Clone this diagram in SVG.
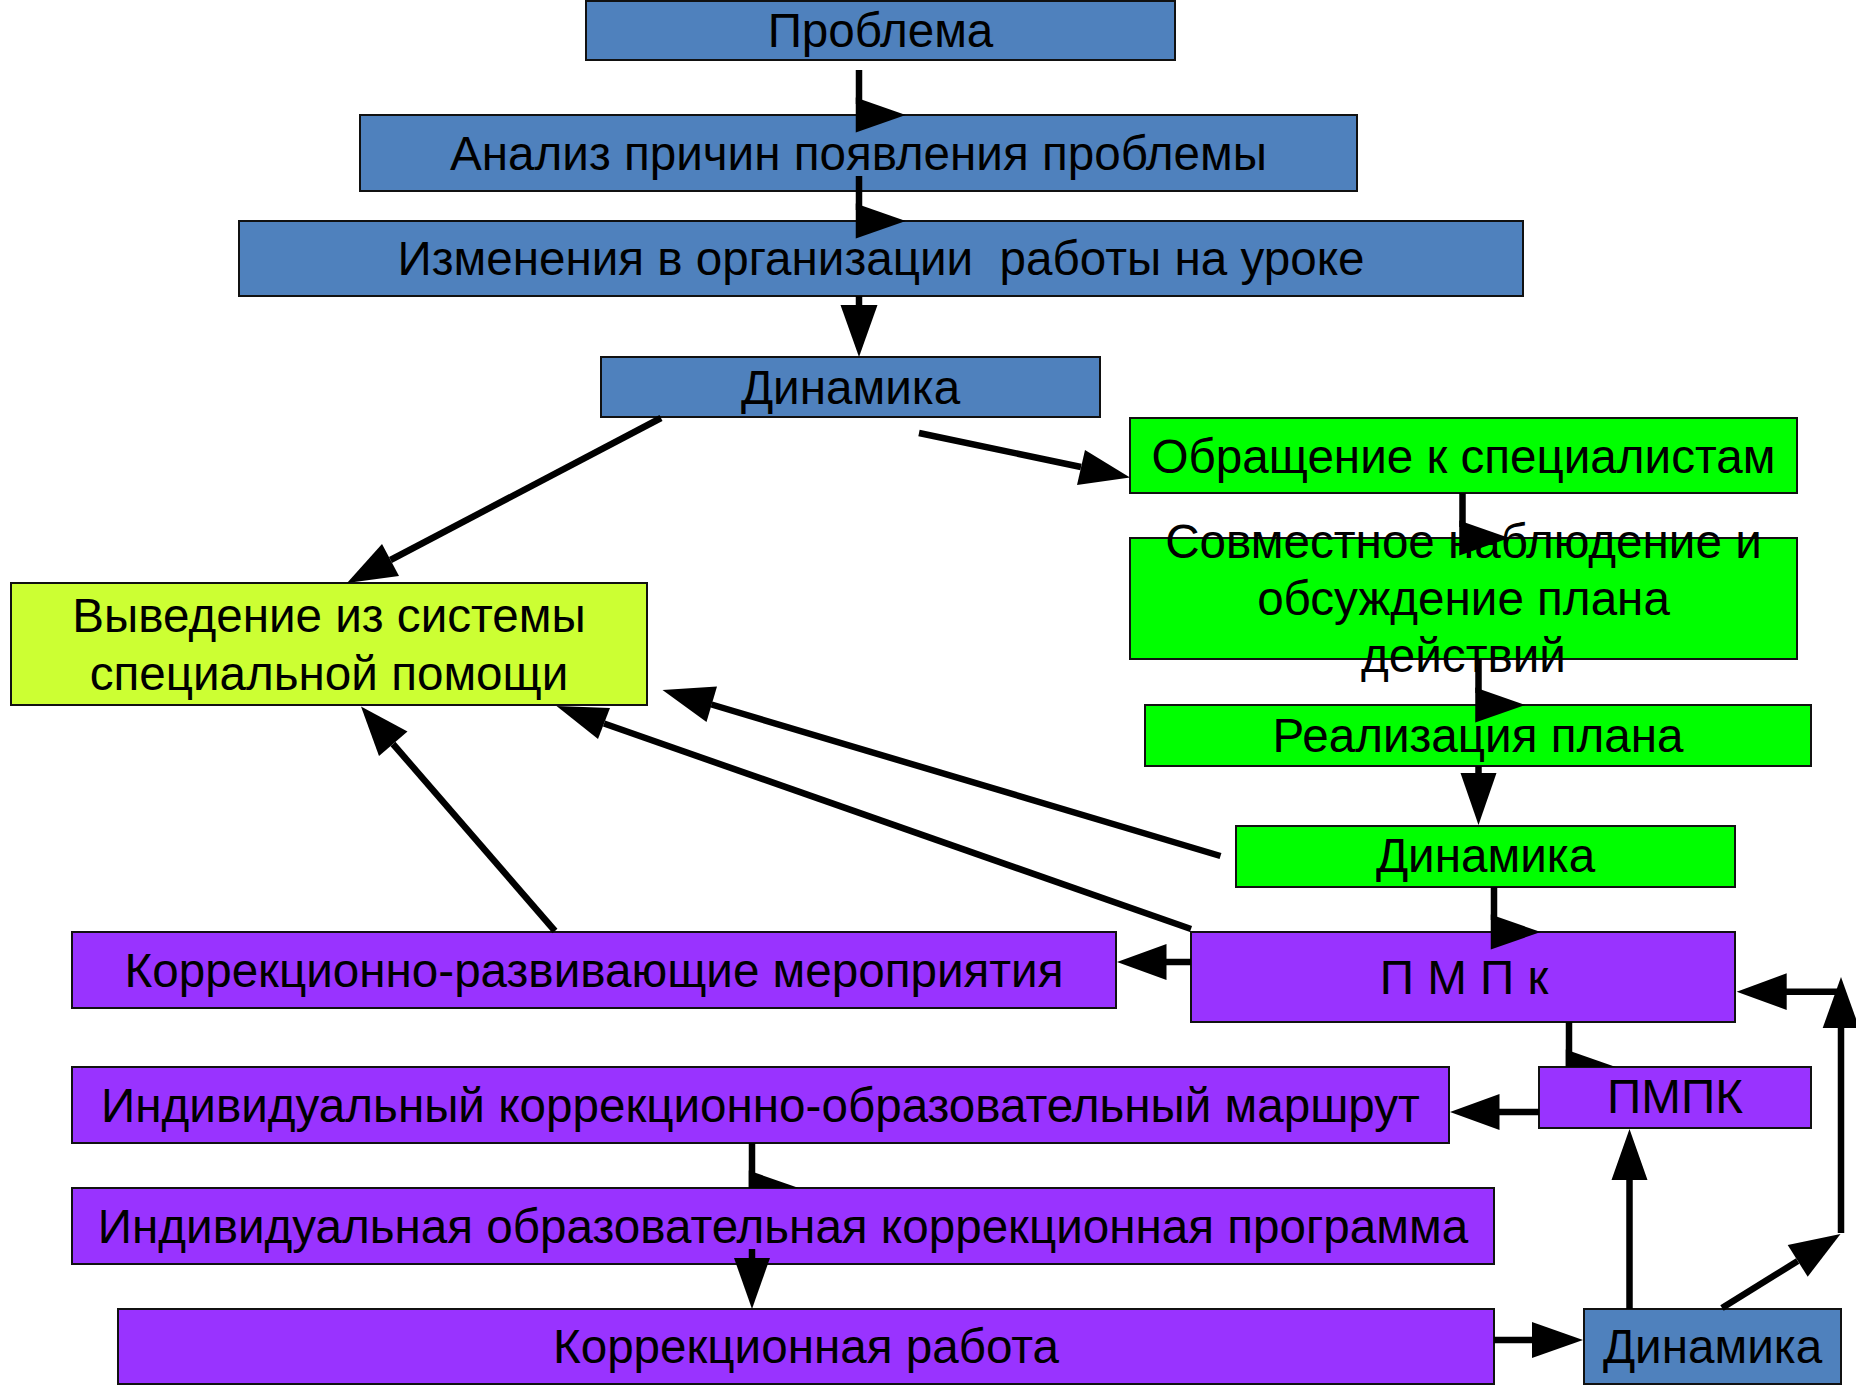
<svg xmlns="http://www.w3.org/2000/svg" width="1856" height="1385" viewBox="0 0 1856 1385">
<style>
.box{stroke:#111;stroke-width:2}
.blue{fill:#4f81bd}
.green{fill:#00ff00}
.lime{fill:#ccff33}
.purple{fill:#9933ff}
text{font-family:"Liberation Sans",Arial,sans-serif;font-size:47.6px;fill:#000;text-anchor:middle;white-space:pre}
.ln{stroke:#000;stroke-width:6.5;fill:none;stroke-linecap:butt}
.hd{fill:#000;stroke:none}
</style>
<rect width="1856" height="1385" fill="#fff"/>
<g id="nodes">
<g id="n-problema"><rect class="box blue" x="586" y="1" width="589" height="59"/><text x="880.5" y="47">Проблема</text></g>
<g id="n-analiz"><rect class="box blue" x="360" y="115" width="997" height="76"/><text x="858.5" y="170">Анализ причин появления проблемы</text></g>
<g id="n-izmeneniya"><rect class="box blue" x="239" y="221" width="1284" height="75"/><text x="881" y="275">Изменения в организации  работы на уроке</text></g>
<g id="n-dinamika1"><rect class="box blue" x="601" y="357" width="499" height="60"/><text x="850.5" y="404">Динамика</text></g>
<g id="n-obrashchenie"><rect class="box green" x="1130" y="418" width="667" height="75"/><text x="1463.5" y="473">Обращение к специалистам</text></g>
<g id="n-sovmestnoe"><rect class="box green" x="1130" y="538" width="667" height="121"/><text x="1463.5" y="558">Совместное наблюдение и</text><text x="1463.5" y="615">обсуждение плана</text><text x="1463.5" y="672">действий</text></g>
<g id="n-realizaciya"><rect class="box green" x="1145" y="705" width="666" height="61"/><text x="1478" y="752">Реализация плана</text></g>
<g id="n-dinamika2"><rect class="box green" x="1236" y="826" width="499" height="61"/><text x="1485.5" y="872">Динамика</text></g>
<g id="n-vyvedenie"><rect class="box lime" x="11" y="583" width="636" height="122"/><text x="329" y="632">Выведение из системы</text><text x="329" y="690">специальной помощи</text></g>
<g id="n-korr-razv"><rect class="box purple" x="72" y="932" width="1044" height="76"/><text x="594" y="987">Коррекционно-развивающие мероприятия</text></g>
<g id="n-pmpk-small"><rect class="box purple" x="1191" y="932" width="544" height="90"/><text x="1464" y="994">П М П к</text></g>
<g id="n-pmpk"><rect class="box purple" x="1539" y="1067" width="272" height="61"/><text x="1675" y="1113">ПМПК</text></g>
<g id="n-marshrut"><rect class="box purple" x="72" y="1067" width="1377" height="76"/><text x="760.5" y="1122">Индивидуальный коррекционно-образовательный маршрут</text></g>
<g id="n-programma"><rect class="box purple" x="72" y="1188" width="1422" height="76"/><text x="783" y="1243">Индивидуальная образовательная коррекционная программа</text></g>
<g id="n-korr-rabota"><rect class="box purple" x="118" y="1309" width="1376" height="75"/><text x="806" y="1363">Коррекционная работа</text></g>
<g id="n-dinamika3"><rect class="box blue" x="1584" y="1309" width="257" height="75"/><text x="1712.5" y="1363">Динамика</text></g>
</g>
<g id="connectors">
<line class="ln" x1="859" y1="70" x2="859" y2="104"/>
<polygon class="hd" points="855.75,97.5 905.75,115 855.75,132.5"/>
<line class="ln" x1="859" y1="176" x2="859" y2="210"/>
<polygon class="hd" points="855.75,203.5 905.75,221 855.75,238.5"/>
<line class="ln" x1="859" y1="296" x2="859" y2="306"/>
<polygon class="hd" points="840.5,305 877.5,305 859,357"/>
<line class="ln" x1="661" y1="418" x2="390.5" y2="560"/>
<polygon class="hd" points="347,583 382,544 399,576"/>
<line class="ln" x1="919" y1="433" x2="1081" y2="467"/>
<polygon class="hd" points="1130,477.5 1085,450 1077,485"/>
<line class="ln" x1="1462.5" y1="493" x2="1462.5" y2="527"/>
<polygon class="hd" points="1459.25,520.5 1509.25,538 1459.25,555.5"/>
<line class="ln" x1="1478.5" y1="659" x2="1478.5" y2="693"/>
<polygon class="hd" points="1475.25,687.5 1525.25,705 1475.25,722.5"/>
<line class="ln" x1="1478.5" y1="766" x2="1478.5" y2="774"/>
<polygon class="hd" points="1460.5,773 1496.5,773 1478.5,825"/>
<line class="ln" x1="1494" y1="887" x2="1494" y2="920"/>
<polygon class="hd" points="1490.75,914.5 1540.75,932 1490.75,949.5"/>
<line class="ln" x1="1191" y1="962" x2="1166" y2="962"/>
<polygon class="hd" points="1166.5,944 1117,962 1166.5,980"/>
<line class="ln" x1="1191" y1="929" x2="604" y2="723.5"/>
<polygon class="hd" points="556.5,706 610,708 598,739"/>
<line class="ln" x1="1220.5" y1="856" x2="711.5" y2="704.5"/>
<polygon class="hd" points="662.5,690 717,686.5 706.5,722"/>
<line class="ln" x1="555" y1="931" x2="393" y2="744"/>
<polygon class="hd" points="361,706.5 407.5,731.5 379,756"/>
<line class="ln" x1="1539" y1="1112" x2="1499" y2="1112"/>
<polygon class="hd" points="1499.5,1094 1450,1112 1499.5,1130"/>
<line class="ln" x1="1569" y1="1022" x2="1569" y2="1066"/>
<polygon class="hd" points="1565.75,1049.5 1615.75,1067 1565.75,1067"/>
<line class="ln" x1="752" y1="1143" x2="752" y2="1187"/>
<polygon class="hd" points="748.75,1170.5 798.75,1188 748.75,1188"/>
<line class="ln" x1="752" y1="1249" x2="752" y2="1259"/>
<polygon class="hd" points="734,1258 770,1258 752,1309"/>
<line class="ln" x1="1494" y1="1340" x2="1532" y2="1340"/>
<polygon class="hd" points="1532,1322 1583,1340 1532,1358"/>
<line class="ln" x1="1629.5" y1="1309" x2="1629.5" y2="1179"/>
<polygon class="hd" points="1611.5,1180 1647.5,1180 1629.5,1129"/>
<line class="ln" x1="1722" y1="1308" x2="1797.7" y2="1261"/>
<polygon class="hd" points="1840.5,1234 1787.7,1245 1807.7,1276.7"/>
<line class="ln" x1="1841" y1="1233" x2="1841" y2="1027"/>
<polygon class="hd" points="1822.7,1028 1859.3,1028 1841,977"/>
<line class="ln" x1="1844" y1="991.7" x2="1786" y2="991.7"/>
<polygon class="hd" points="1786.7,973.3 1736.7,991.7 1786.7,1010"/>
</g>
</svg>
